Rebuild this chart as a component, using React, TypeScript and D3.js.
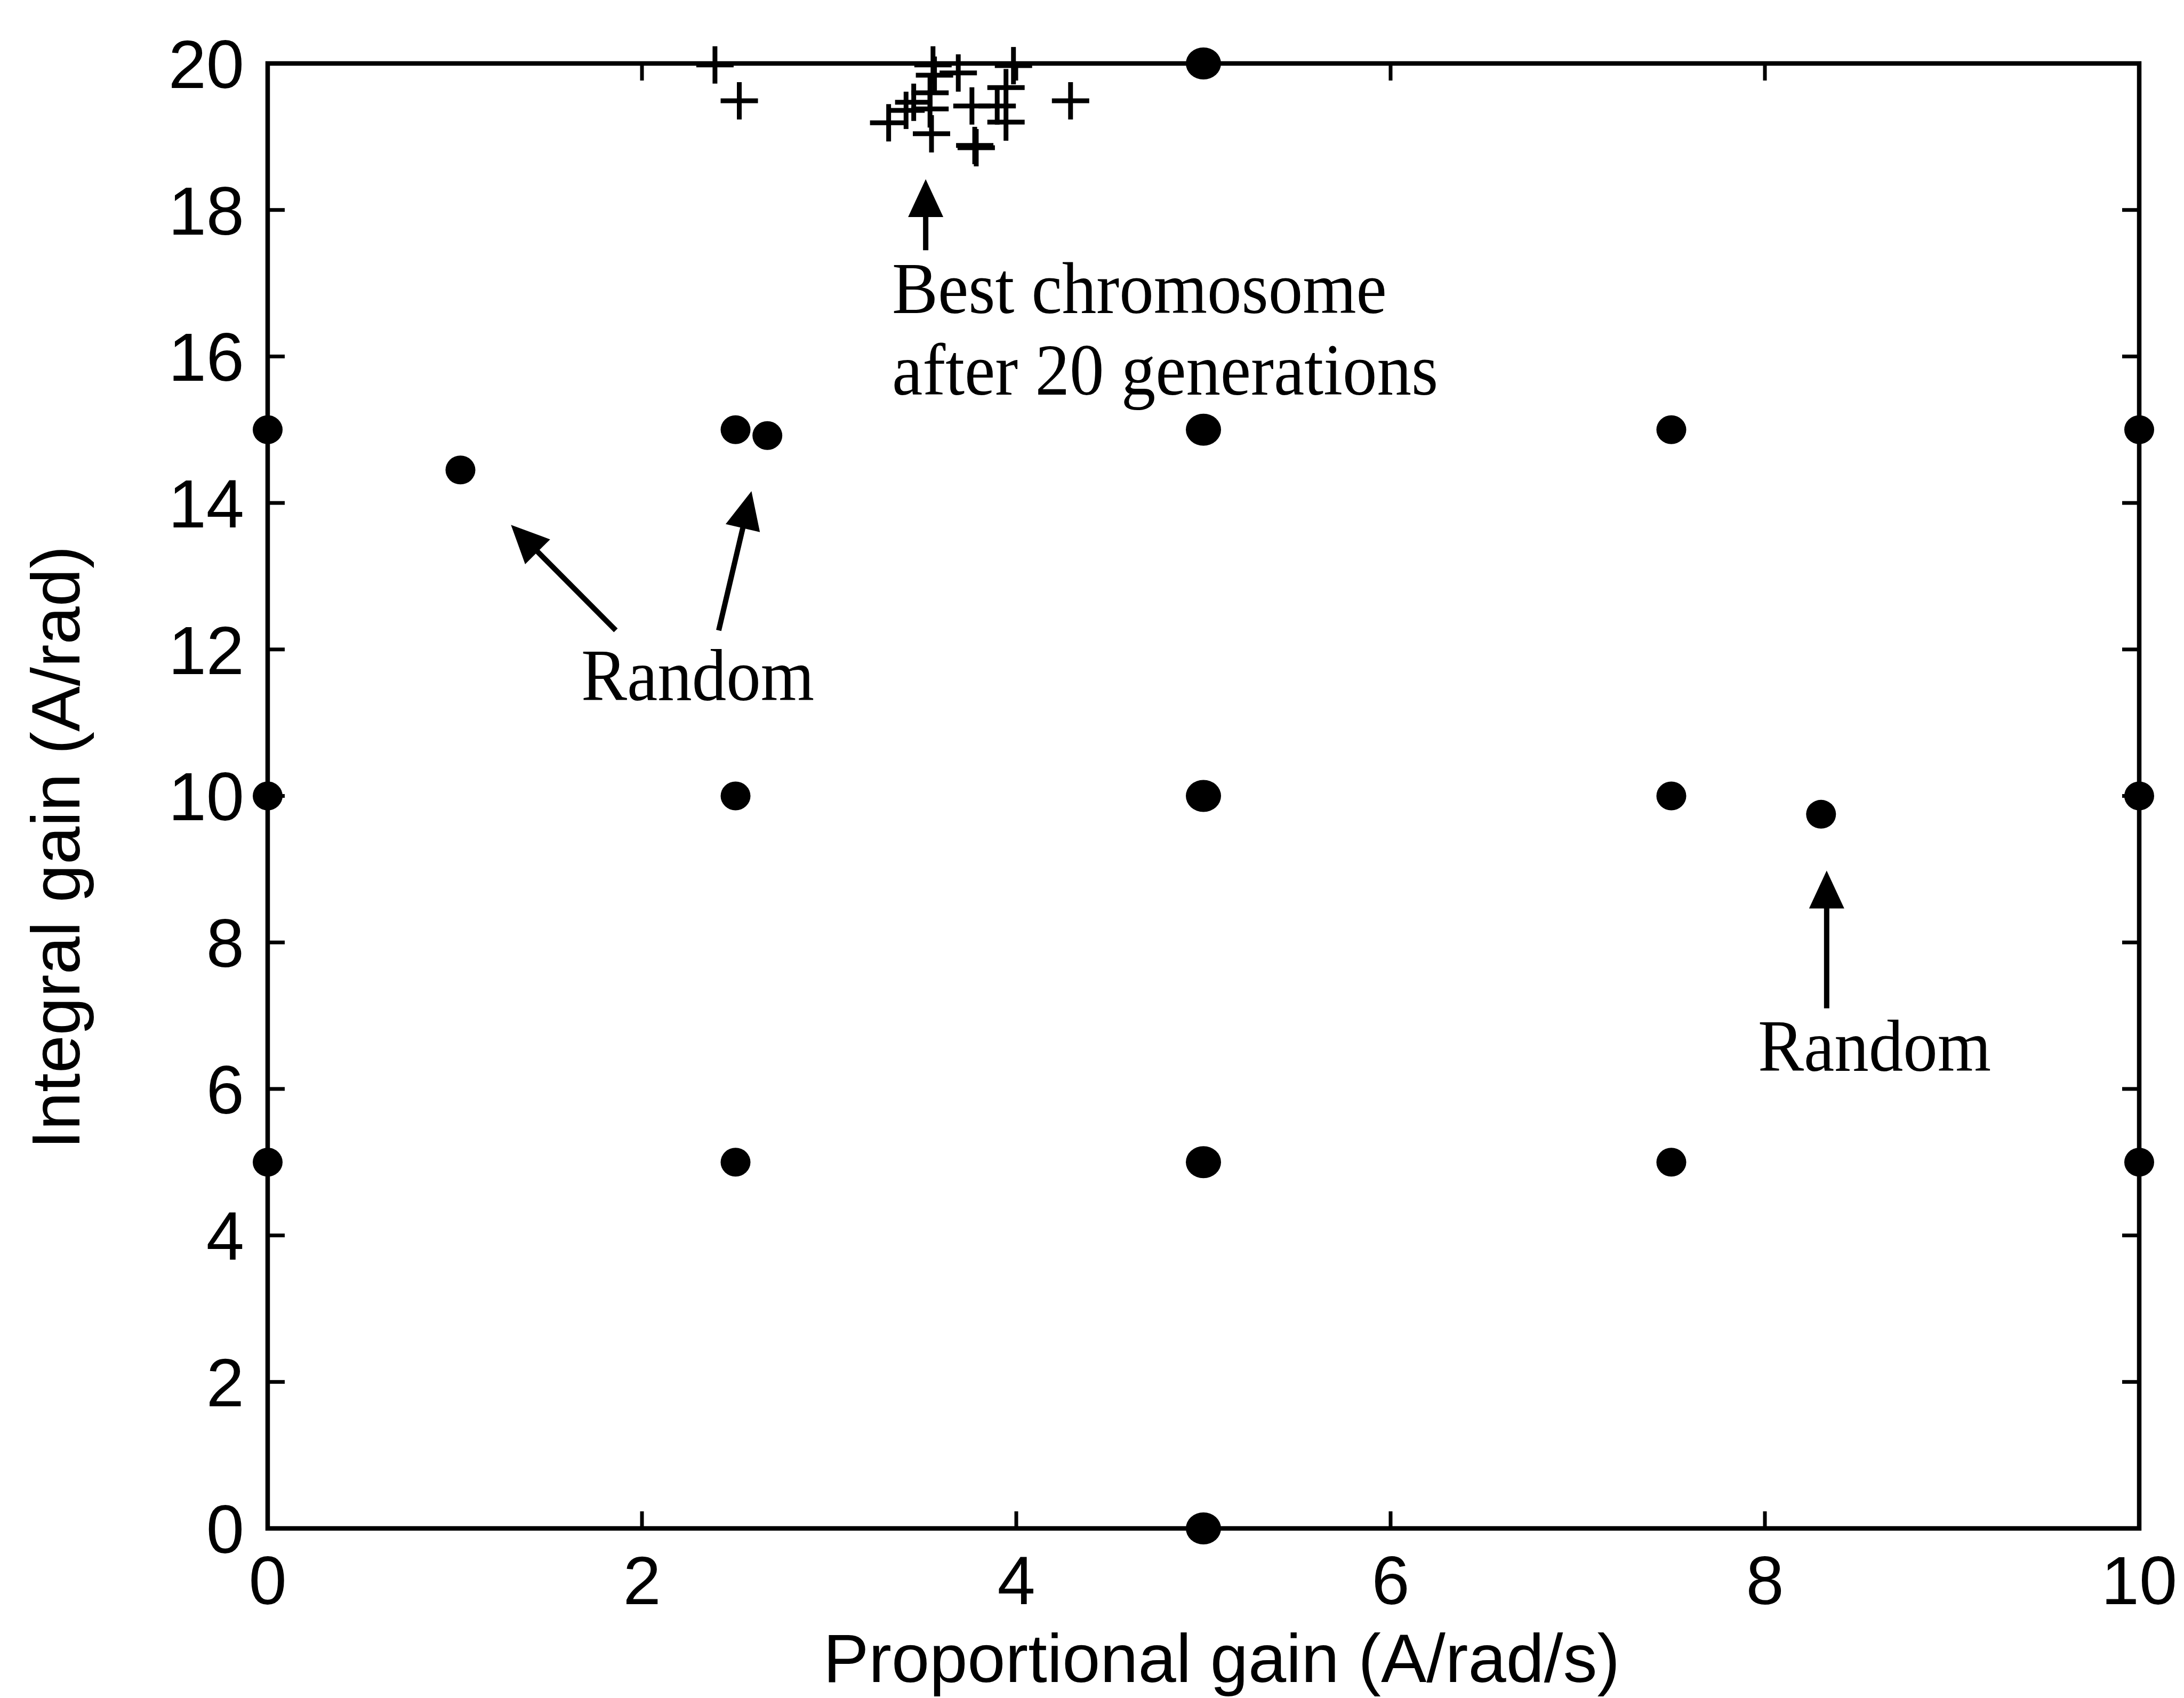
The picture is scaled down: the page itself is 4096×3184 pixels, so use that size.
import React from 'react';
import * as d3 from 'd3';

const W = 4096;
const H = 3184;

// axis ticks
const xTicks = [0, 2, 4, 6, 8, 10];
const yTicks = [0, 2, 4, 6, 8, 10, 12, 14, 16, 18, 20];

// initial population (filled dots)
const initX = [0, 0, 0, 2.5, 2.5, 2.5, 5, 5, 5, 5, 5, 7.5, 7.5, 7.5, 10, 10, 10, 1.03, 2.67, 8.3];
const initY = [15, 10, 5, 15, 10, 5, 20, 15, 10, 5, 0, 15, 10, 5, 15, 10, 5, 14.45, 14.92, 9.75];

// population after 20 generations (+)
const finalX = [2.39, 2.52, 4.29, 3.555, 3.563, 3.69, 3.539, 3.452, 3.539, 3.411, 3.318, 3.547, 3.763, 3.778, 3.786, 3.898, 3.945, 3.945, 3.985];
const finalY = [19.98, 19.49, 19.49, 19.98, 19.84, 19.87, 19.6, 19.47, 19.38, 19.36, 19.19, 19.04, 19.42, 18.88, 18.85, 19.42, 19.67, 19.2, 19.97];

// annotation arrows (data units)
const arrowTailX = [3.516, 1.86, 2.41, 8.33];
const arrowTailY = [17.45, 12.26, 12.26, 7.1];
const arrowTipX = [3.516, 1.3, 2.585, 8.33];
const arrowTipY = [18.42, 13.7, 14.16, 8.98];

// annotation texts (data units: left edge, baseline)
const noteText = ['Best chromosome', 'after 20 generations', 'Random', 'Random'];
const noteX = [3.336, 3.336, 1.675, 7.963];
const noteY = [16.59, 15.48, 11.31, 6.244];

const xLabel = 'Proportional gain (A/rad/s)';
const yLabel = 'Integral gain (A/rad)';

export default function App() {
  const left = 502;
  const right = 4012;
  const top = 119;
  const bottom = 2866;
  const x = d3.scaleLinear().domain([0, 10]).range([left, right]);
  const y = d3.scaleLinear().domain([0, 20]).range([bottom, top]);

  const sans = '"Liberation Sans", Arial, Helvetica, sans-serif';
  const serif = '"Liberation Serif", "Times New Roman", serif';
  const tickLen = 32;
  const fs = 128;

  const headLen = 71;
  const headHalf = 33;

  const arrows = arrowTailX.map((_, i) => {
    const x1 = x(arrowTailX[i]);
    const y1 = y(arrowTailY[i]);
    const x2 = x(arrowTipX[i]);
    const y2 = y(arrowTipY[i]);
    const dx = x2 - x1;
    const dy = y2 - y1;
    const L = Math.sqrt(dx * dx + dy * dy);
    const ux = dx / L;
    const uy = dy / L;
    const bx = x2 - ux * headLen;
    const by = y2 - uy * headLen;
    const nx = -uy;
    const ny = ux;
    const pts = [
      [x2, y2],
      [bx + nx * headHalf, by + ny * headHalf],
      [bx - nx * headHalf, by - ny * headHalf],
    ];
    return (
      <g key={'a' + i}>
        <line x1={x1} y1={y1} x2={bx + ux * 4} y2={by + uy * 4} stroke="#000" strokeWidth={10} />
        <polygon points={pts.map((p) => p.join(',')).join(' ')} fill="#000" />
      </g>
    );
  });

  const plusHalf = 35;

  return (
    <svg
      width={W}
      height={H}
      viewBox={`0 0 ${W} ${H}`}
      style={{ position: 'absolute', left: 0, top: 0, background: '#fff' }}
    >
      <rect x={0} y={0} width={W} height={H} fill="#fff" />

      {/* ticks */}
      <g stroke="#000" strokeWidth={7}>
        {xTicks.map((t) => (
          <g key={'xt' + t}>
            <line x1={x(t)} x2={x(t)} y1={bottom} y2={bottom - tickLen} />
            <line x1={x(t)} x2={x(t)} y1={top} y2={top + tickLen} />
          </g>
        ))}
        {yTicks.map((t) => (
          <g key={'yt' + t}>
            <line x1={left} x2={left + tickLen} y1={y(t)} y2={y(t)} />
            <line x1={right} x2={right - tickLen} y1={y(t)} y2={y(t)} />
          </g>
        ))}
      </g>

      {/* frame */}
      <rect
        x={left}
        y={top}
        width={right - left}
        height={bottom - top}
        fill="none"
        stroke="#000"
        strokeWidth={8.5}
      />

      {/* tick labels */}
      <g fontFamily={sans} fontSize={fs} fill="#000">
        {xTicks.map((t) => (
          <text key={'xl' + t} x={x(t)} y={3008} textAnchor="middle">
            {t}
          </text>
        ))}
        {yTicks.map((t) => (
          <text key={'yl' + t} x={458} y={y(t) + fs * 0.358} textAnchor="end">
            {t}
          </text>
        ))}
      </g>

      {/* axis labels */}
      <text x={2291} y={3154} textAnchor="middle" fontFamily={sans} fontSize={128} fill="#000">
        {xLabel}
      </text>
      <text
        transform={`translate(149,1589) rotate(-90)`}
        textAnchor="middle"
        fontFamily={sans}
        fontSize={128}
        fill="#000"
      >
        {yLabel}
      </text>

      {/* initial population */}
      <g fill="#000">
        {initX.map((v, i) => (
          <ellipse
            key={'d' + i}
            cx={x(v)}
            cy={y(initY[i])}
            rx={v === 5 ? 33 : 28}
            ry={v === 5 ? 30 : 27}
          />
        ))}
      </g>

      {/* final population */}
      <g stroke="#000" strokeWidth={9}>
        {finalX.map((v, i) => (
          <g key={'p' + i}>
            <line x1={x(v) - plusHalf} x2={x(v) + plusHalf} y1={y(finalY[i])} y2={y(finalY[i])} />
            <line x1={x(v)} x2={x(v)} y1={y(finalY[i]) - plusHalf} y2={y(finalY[i]) + plusHalf} />
          </g>
        ))}
      </g>

      {/* annotations */}
      {arrows}
      <g fontFamily={serif} fontSize={129} fill="#000">
        {noteText.map((s, i) => (
          <text key={'n' + i} transform={`translate(${x(noteX[i])},${y(noteY[i])}) scale(1,1.06)`}>
            {s}
          </text>
        ))}
      </g>
    </svg>
  );
}
